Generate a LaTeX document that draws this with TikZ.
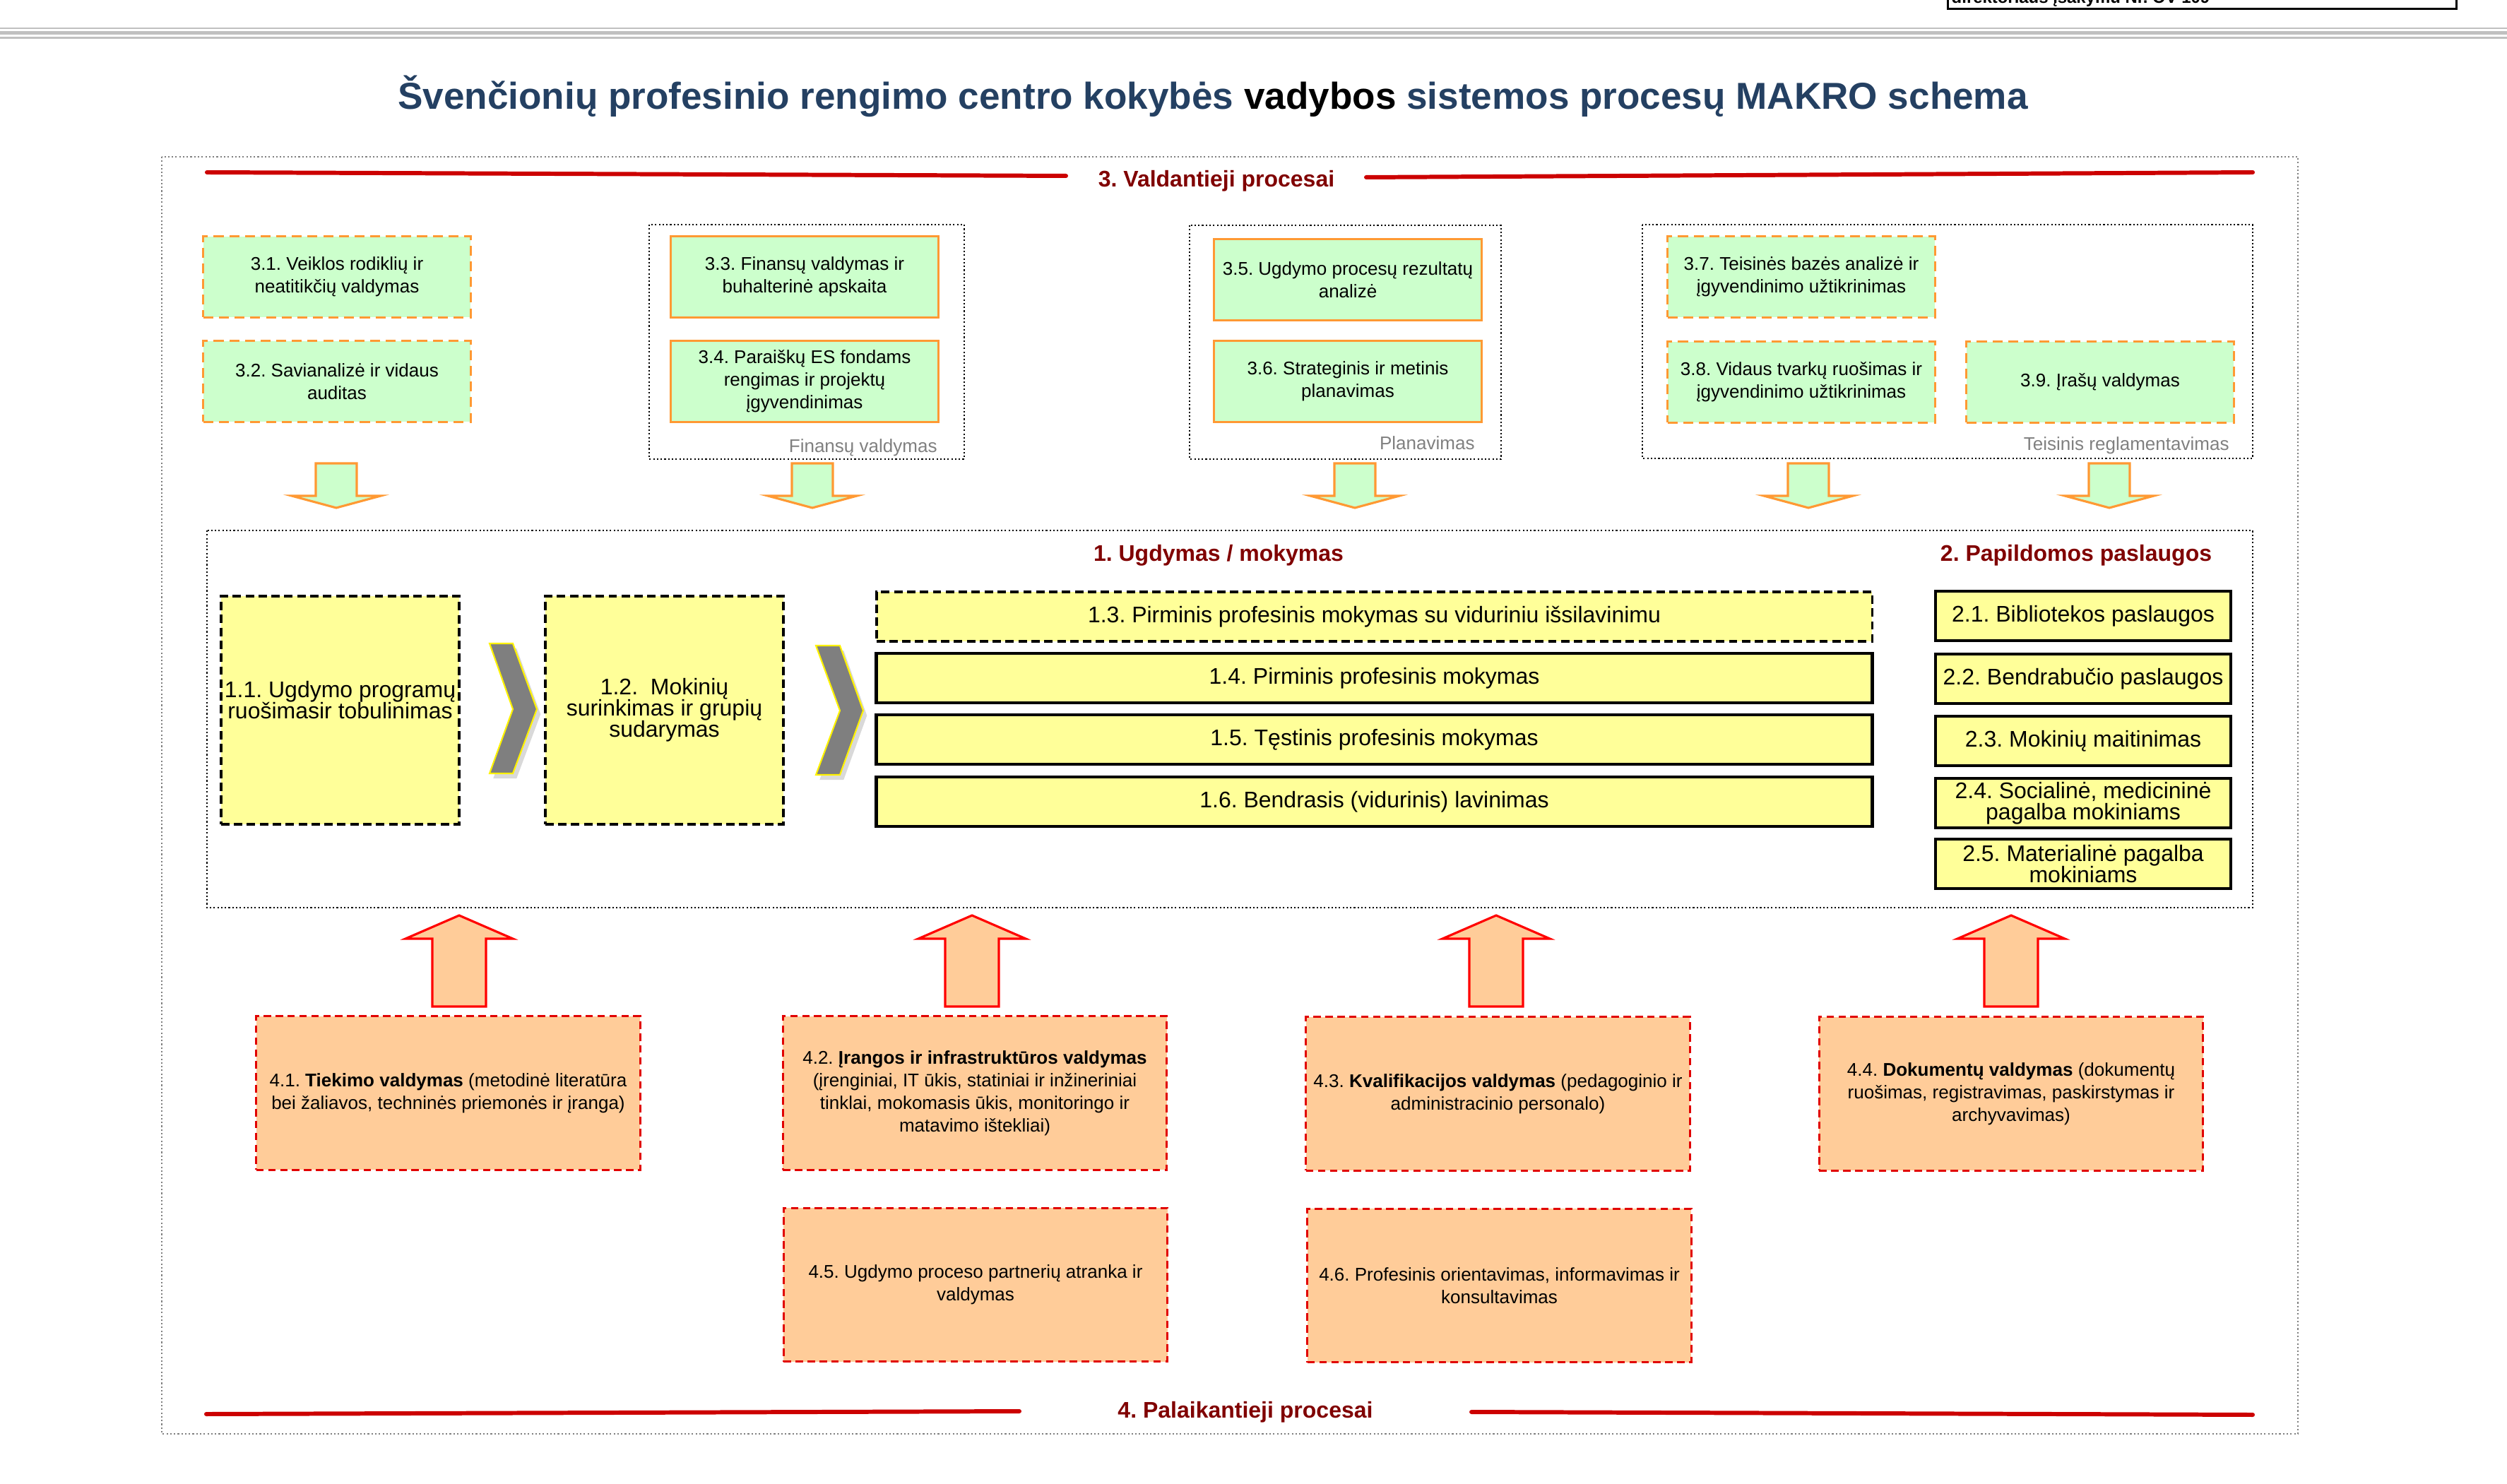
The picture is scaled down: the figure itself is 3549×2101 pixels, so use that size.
\documentclass[tikz,border=0pt]{standalone}
\usepackage{fontspec}
\setmainfont{Liberation Sans}
\usepackage{tkz-euclide}
\usetikzlibrary{calc}
\usetikzlibrary{shadows}
\frenchspacing

\definecolor{titleblue}{RGB}{36,64,98}
\definecolor{headred}{RGB}{128,0,0}
\definecolor{linered}{RGB}{204,0,0}
\definecolor{ctrlgreen}{RGB}{204,255,204}
\definecolor{ctrlorange}{RGB}{255,153,51}
\definecolor{coreyellow}{RGB}{255,255,153}
\definecolor{suppfill}{RGB}{255,204,153}
\definecolor{suppred}{RGB}{225,0,0}
\definecolor{chevgray}{RGB}{127,127,127}
\definecolor{rulegray}{RGB}{192,192,192}
\definecolor{labelgray}{RGB}{128,128,128}

\newcommand{\smallfont}{\fontsize{7.4pt}{9.1pt}\selectfont}
\newcommand{\bigfont}{\fontsize{9.1pt}{8.54pt}\selectfont}

\tikzset{
  ctrlbox/.style={draw=ctrlorange, fill=ctrlgreen, line width=0.85pt,
    minimum width=3.78cm, minimum height=1.14cm, inner sep=0pt,
    align=center, font=\smallfont},
  ctrldash/.style={ctrlbox, dash pattern=on 4pt off 2.3pt},
  groupframe/.style={draw=black, line width=0.6pt, dash pattern=on 0.6pt off 0.9pt},
  grouplabel/.style={anchor=base east, text=labelgray, font=\smallfont},
  headlabel/.style={anchor=base, text=headred,
    font=\fontsize{9.1pt}{10pt}\selectfont\bfseries},
  redrule/.style={draw=linered, line width=1.7pt},
  corebox/.style={draw=black, fill=coreyellow, line width=1.3pt,
    inner sep=0pt, align=center, font=\bigfont},
  coredash/.style={corebox, line width=1.1pt, dash pattern=on 3.4pt off 1.8pt},
  chevron/.style={fill=chevgray, draw=yellow, line width=0.6pt,
    drop shadow={shadow xshift=1.5pt, shadow yshift=-2pt, opacity=0.3}},
  addbox/.style={corebox, minimum width=4.18cm, minimum height=0.7cm},
  suppbox/.style={draw=suppred, fill=suppfill, line width=0.85pt,
    dash pattern=on 3pt off 1.8pt, minimum width=5.43cm, minimum height=2.17cm,
    inner sep=0pt, align=center, font=\smallfont},
  downarrow/.style={fill=ctrlgreen, draw=ctrlorange, line width=0.9pt},
  uparrow/.style={fill=suppfill, draw=red, line width=0.9pt}
}

\begin{document}
\begin{tikzpicture}[x=0.01cm,y=-0.01cm]
\useasboundingbox (0,0) rectangle (3549,2101);

% header of the page
\draw[line width=0.85pt] (2757,-20) -- (2757,13) -- (3477,13) -- (3477,-20);
\node[anchor=base west, inner sep=0pt, font=\fontsize{6.8pt}{8pt}\selectfont\bfseries] (order) at (2762,5) {direktoriaus įsakymu Nr. OV-109};
\draw[rulegray, line width=0.65pt] (0,40.2) -- (3549,40.2);
\draw[rulegray, line width=1.34pt] (0,46.7) -- (3549,46.7);
\draw[rulegray, line width=0.65pt] (0,53.5) -- (3549,53.5);

\node[anchor=base, text=titleblue, font=\fontsize{15.1pt}{17pt}\selectfont\bfseries] (title) at (1717,155)
  {Švenčionių profesinio rengimo centro kokybės {\color{black}vadybos} sistemos procesų MAKRO schema};

\draw[labelgray, line width=0.6pt, dash pattern=on 0.6pt off 0.9pt] (229,222) rectangle (3253,2030);

% 3. valdantieji procesai
\tkzDefPoint(293,244){ta}
\tkzDefPoint(1509,249){tb}
\tkzDefPoint(1934,251){tc}
\tkzDefPoint(3189,244){td}
\tkzDrawSegment[redrule](ta,tb)
\tkzDrawSegment[redrule](tc,td)
\node[headlabel] (ctrlhead) at (1722,265) {3. Valdantieji procesai};

\draw[groupframe] (919,318) rectangle (1365,650);
\draw[groupframe] (1684,319) rectangle (2125,650);
\draw[groupframe] (2325,318) rectangle (3189,649);
\node[grouplabel] (finlbl) at (1339,641) {Finansų valdymas};
\node[grouplabel] (planlbl) at (2100,637) {Planavimas};
\node[grouplabel] (teislbl) at (3168,638) {Teisinis reglamentavimas};

\node[ctrldash] (p31) at (477,392) {3.1. Veiklos rodiklių ir\\neatitikčių valdymas};
\node[ctrldash] (p32) at (477,540) {3.2. Savianalizė ir vidaus\\auditas};
\node[ctrlbox] (p33) at (1139,392) {3.3. Finansų valdymas ir\\buhalterinė apskaita};
\node[ctrlbox] (p34) at (1139,540) {3.4. Paraiškų ES fondams\\rengimas ir projektų\\įgyvendinimas};
\node[ctrlbox] (p35) at (1908,396) {3.5. Ugdymo procesų rezultatų\\analizė};
\node[ctrlbox] (p36) at (1908,540) {3.6. Strateginis ir metinis\\planavimas};
\node[ctrldash] (p37) at (2550,392) {3.7. Teisinės bazės analizė ir\\įgyvendinimo užtikrinimas};
\node[ctrldash] (p38) at (2550,541) {3.8. Vidaus tvarkų ruošimas ir\\įgyvendinimo užtikrinimas};
\node[ctrldash] (p39) at (2973,541) {3.9. Įrašų valdymas};

\foreach \x in {476,1150,1918,2560,2986}
  \draw[downarrow] (\x-29,656) -- (\x+29,656) -- (\x+29,702) -- (\x+63,702)
    -- (\x,719) -- (\x-63,702) -- (\x-29,702) -- cycle;

% 1. ir 2. pagrindiniai procesai
\draw[groupframe] (293,751) rectangle (3189,1285);
\node[headlabel] (corehead) at (1725,795) {1. Ugdymas / mokymas};
\node[headlabel] (addhead) at (2939,795) {2. Papildomos paslaugos};

\node[coredash, minimum width=3.37cm, minimum height=3.23cm] (p11) at (481.5,1005.5)
  {1.1. Ugdymo programų\\ruošimasir tobulinimas\\\mbox{}};
\node[coredash, minimum width=3.37cm, minimum height=3.23cm] (p12) at (940.5,1005.5)
  {1.2.\ \ Mokinių\\surinkimas ir grupių\\sudarymas};
\draw[chevron] (693,911) -- (726,911) -- (760,1004) -- (726,1095) -- (693,1095) -- (726,1004) -- cycle;
\draw[chevron] (1155,914) -- (1189,914) -- (1222,1006) -- (1189,1097) -- (1155,1097) -- (1189,1006) -- cycle;

\node[coredash, minimum width=14.09cm, minimum height=0.7cm] (p13) at (1945.5,873) {1.3. Pirminis profesinis mokymas su viduriniu išsilavinimu};
\node[corebox, minimum width=14.09cm, minimum height=0.7cm] (p14) at (1945.5,960) {1.4. Pirminis profesinis mokymas};
\node[corebox, minimum width=14.09cm, minimum height=0.7cm] (p15) at (1945.5,1047) {1.5. Tęstinis profesinis mokymas};
\node[corebox, minimum width=14.09cm, minimum height=0.7cm] (p16) at (1945.5,1135) {1.6. Bendrasis (vidurinis) lavinimas};

\node[addbox] (p21) at (2949,872) {2.1. Bibliotekos paslaugos};
\node[addbox] (p22) at (2949,961) {2.2. Bendrabučio paslaugos};
\node[addbox] (p23) at (2949,1049) {2.3. Mokinių maitinimas};
\node[addbox] (p24) at (2949,1137) {2.4. Socialinė, medicininė\\pagalba mokiniams};
\node[addbox] (p25) at (2949,1223) {2.5. Materialinė pagalba\\mokiniams};

% 4. palaikantieji procesai
\foreach \x in {650,1376,2118,2847}
  \draw[uparrow] (\x-38,1425) -- (\x-38,1329) -- (\x-76,1329) -- (\x,1296)
    -- (\x+76,1329) -- (\x+38,1329) -- (\x+38,1425) -- cycle;

\node[suppbox] (p41) at (634.5,1547.5) {4.1. \textbf{Tiekimo valdymas} (metodinė literatūra\\bei žaliavos, techninės priemonės ir įranga)};
\node[suppbox] (p42) at (1380,1547.5) {4.2. \textbf{Įrangos ir infrastruktūros valdymas}\\(įrenginiai, IT ūkis, statiniai ir inžineriniai\\tinklai, mokomasis ūkis, monitoringo ir\\matavimo ištekliai)};
\node[suppbox] (p43) at (2120.5,1548.5) {4.3. \textbf{Kvalifikacijos valdymas} (pedagoginio ir\\administracinio personalo)};
\node[suppbox] (p44) at (2847,1548.5) {4.4. \textbf{Dokumentų valdymas} (dokumentų\\ruošimas, registravimas, paskirstymas ir\\archyvavimas)};
\node[suppbox] (p45) at (1381,1819) {4.5. Ugdymo proceso partnerių atranka ir\\valdymas};
\node[suppbox] (p46) at (2122.5,1820) {4.6. Profesinis orientavimas, informavimas ir\\konsultavimas};

\tkzDefPoint(292,2002){ba}
\tkzDefPoint(1443,1998){bb}
\tkzDefPoint(2083,1999){bc}
\tkzDefPoint(3189,2003){bd}
\tkzDrawSegment[redrule](ba,bb)
\tkzDrawSegment[redrule](bc,bd)
\node[headlabel] (supphead) at (1763,2007) {4. Palaikantieji procesai};
\end{tikzpicture}
\end{document}
